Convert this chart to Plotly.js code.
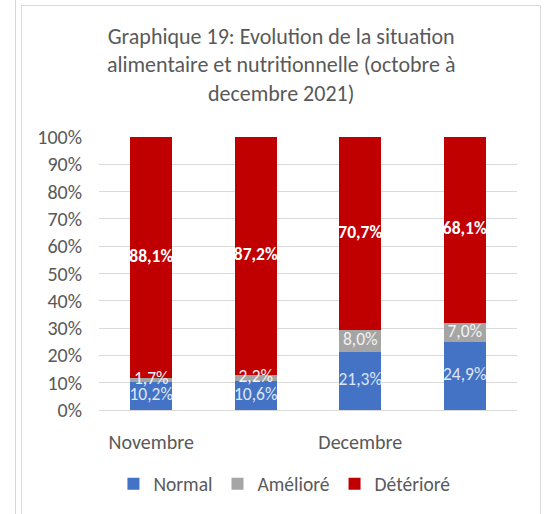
<!DOCTYPE html>
<html>
<head>
<meta charset="utf-8">
<script src="https://cdn.plot.ly/plotly-3.0.1.min.js"></script>
<style>
  body { margin: 0; background: #fff; }
  #left-edge { position: absolute; left: 15px; top: 0; width: 1px; height: 514px; background: #d9d9d9; }
  #frame { position: absolute; left: 21px; top: 5px; width: 518px; height: 520px; border: 1px solid #d9d9d9; }
  #chart { position: absolute; left: 0; top: 0; width: 547px; height: 514px; }
</style>
</head>
<body>
<div id="left-edge"></div>
<div id="frame"></div>
<div id="chart"></div>
<script>
  // Valeurs (en %)
  const positions = [0, 1, 2, 3];
  const moisLabels = ["Novembre", "", "Decembre", ""];
  const normal = [10.2, 10.6, 21.3, 24.9];
  const ameliore = [1.7, 2.2, 8.0, 7.0];
  const deteriore = [88.1, 87.2, 70.7, 68.1];

  const police = "Carlito, Calibri, 'Noto Sans', sans-serif";
  const fmt = v => v.toFixed(1).replace(".", ",") + "%";

  function barre(nom, valeurs, couleur) {
    return {
      x: positions, y: valeurs, name: nom, type: "bar",
      marker: { color: couleur },
      hoverinfo: "name+y"
    };
  }

  // étiquettes posées au milieu de chaque segment, au-dessus des barres
  function etiquettes(base, valeurs, couleur, gras) {
    return {
      x: positions,
      y: valeurs.map((v, i) => base[i] + v / 2),
      text: valeurs.map(v => gras ? "<b>" + fmt(v) + "</b>" : fmt(v)),
      mode: "text", type: "scatter",
      textposition: "middle center",
      textfont: { family: police, size: 17.5, color: couleur },
      cliponaxis: false, showlegend: false, hoverinfo: "skip"
    };
  }

  const zero = positions.map(() => 0);
  const cumul2 = normal.map((v, i) => v + ameliore[i]);

  const traces = [
    barre("Normal", normal, "#4472C4"),
    barre("Amélioré", ameliore, "#A5A5A5"),
    barre("Détérioré", deteriore, "#C00000"),
    etiquettes(zero, normal, "#dde6f5", false),
    etiquettes(normal, ameliore, "#f2f2f2", false),
    etiquettes(cumul2, deteriore, "#ffffff", true)
  ];

  const layout = {
    width: 547,
    height: 514,
    paper_bgcolor: "rgba(0,0,0,0)",
    plot_bgcolor: "rgba(0,0,0,0)",
    barmode: "stack",
    bargap: 0.6,
    margin: { l: 99, r: 30, t: 137, b: 104 },
    font: { family: police, color: "#595959" },
    title: {
      text: "Graphique 19: Evolution de la situation<br>alimentaire et nutritionnelle (octobre à<br>decembre 2021)",
      font: { family: police, size: 22, color: "#595959" },
      xref: "container", x: 0.514, xanchor: "center",
      yref: "container", y: 0.915, yanchor: "top"
    },
    xaxis: {
      tickvals: positions,
      ticktext: moisLabels,
      range: [-0.5, 3.5],
      showgrid: false,
      zeroline: false,
      showline: false,
      ticks: "outside",
      ticklen: 14,
      tickcolor: "rgba(0,0,0,0)",
      tickfont: { family: police, size: 20, color: "#595959" }
    },
    yaxis: {
      range: [0, 100],
      dtick: 10,
      ticksuffix: "%",
      showgrid: true,
      gridcolor: "#d9d9d9",
      gridwidth: 1,
      zeroline: true,
      zerolinecolor: "#d9d9d9",
      ticks: "outside",
      ticklen: 12,
      tickcolor: "rgba(0,0,0,0)",
      tickfont: { family: police, size: 20, color: "#595959" }
    },
    legend: {
      orientation: "h",
      traceorder: "normal",
      xref: "container", x: 0.52, xanchor: "center",
      yref: "container", y: 0.058, yanchor: "middle",
      font: { family: police, size: 19.5, color: "#595959" },
      itemwidth: 30
    },
    showlegend: true
  };

  Plotly.newPlot("chart", traces, layout, { displayModeBar: false, staticPlot: true });
</script>
</body>
</html>
